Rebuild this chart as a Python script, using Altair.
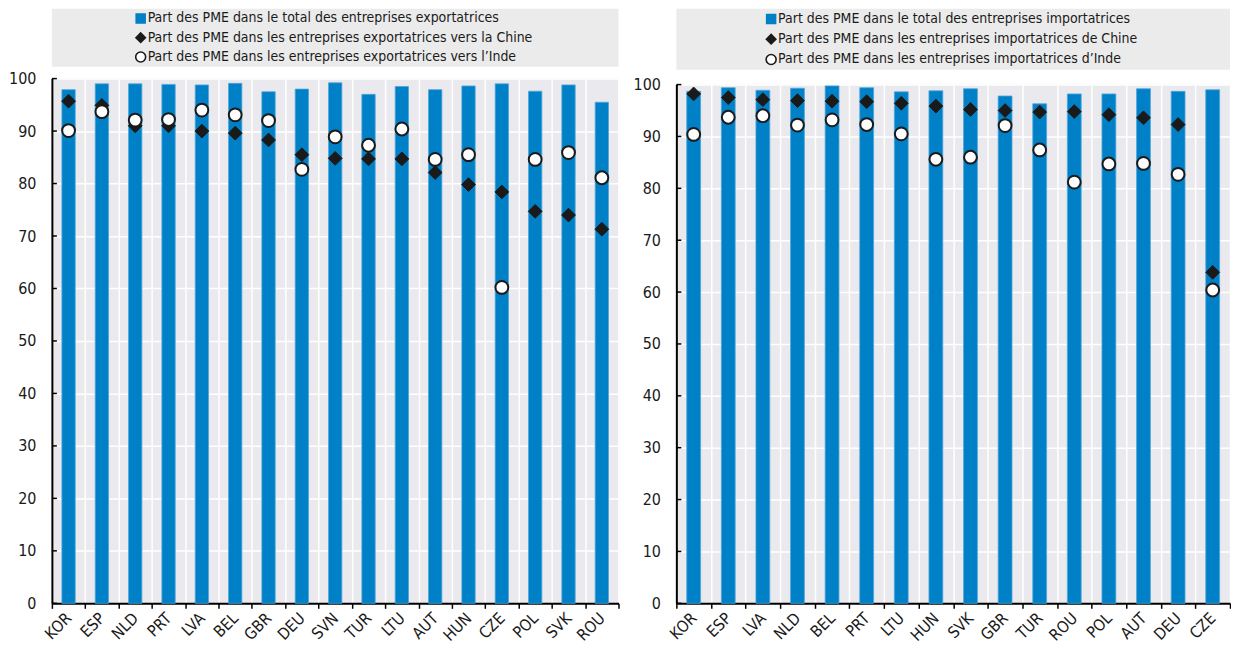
import altair as alt
import pandas as pd

# ---------------- data ----------------
countries_exp = ["KOR", "ESP", "NLD", "PRT", "LVA", "BEL", "GBR", "DEU", "SVN",
                 "TUR", "LTU", "AUT", "HUN", "CZE", "POL", "SVK", "ROU"]
total_exp = [97.9, 99.0, 99.0, 98.9, 98.8, 99.1, 97.5, 98.0, 99.2,
             97.0, 98.5, 97.9, 98.6, 99.0, 97.6, 98.8, 95.5]
china_exp = [95.7, 94.9, 91.0, 91.0, 90.0, 89.6, 88.3, 85.5, 84.8,
             84.7, 84.7, 82.1, 79.8, 78.4, 74.7, 74.0, 71.3]
india_exp = [90.1, 93.7, 92.1, 92.2, 94.0, 93.1, 92.0, 82.7, 88.9,
             87.3, 90.4, 84.6, 85.5, 60.2, 84.6, 85.9, 81.1]
labels_exp = ["Part des PME dans le total des entreprises exportatrices",
              "Part des PME dans les entreprises exportatrices vers la Chine",
              "Part des PME dans les entreprises exportatrices vers l’Inde"]

countries_imp = ["KOR", "ESP", "LVA", "NLD", "BEL", "PRT", "LTU", "HUN", "SVK",
                 "GBR", "TUR", "ROU", "POL", "AUT", "DEU", "CZE"]
total_imp = [98.7, 99.4, 98.9, 99.3, 99.75, 99.4, 98.6, 98.8, 99.2,
             97.8, 96.3, 98.2, 98.2, 99.2, 98.7, 99.0]
china_imp = [98.2, 97.5, 97.1, 96.9, 96.8, 96.7, 96.4, 95.85, 95.2,
             95.0, 94.7, 94.8, 94.2, 93.6, 92.3, 63.8]
india_imp = [90.4, 93.7, 94.0, 92.2, 93.2, 92.3, 90.5, 85.6, 86.0,
             92.1, 87.4, 81.2, 84.7, 84.8, 82.7, 60.4]
labels_imp = ["Part des PME dans le total des entreprises importatrices",
              "Part des PME dans les entreprises importatrices de Chine",
              "Part des PME dans les entreprises importatrices d’Inde"]

y_ticks = list(range(0, 101, 10))

# ---------------- style ----------------
FONT = "DejaVu Sans Condensed, Liberation Sans Narrow, Arial Narrow, sans-serif"
BLUE = "#0080C6"
BG = "#EAEAEE"
LEG_BG = "#EBEBEB"
INK = "#1a1a1a"


def panel(countries, total, china, india, labels, width, height,
          leg_height, leg_spacing, sym_x, txt_x):
    df_bar = pd.DataFrame({"pays": countries, "valeur": total})
    df_chn = pd.DataFrame({"pays": countries, "valeur": china})
    df_ind = pd.DataFrame({"pays": countries, "valeur": india})
    df_ticks = pd.DataFrame({"valeur": y_ticks})

    x = alt.X("pays:N", sort=countries,
              scale=alt.Scale(paddingInner=0, paddingOuter=0),
              axis=alt.Axis(title=None, labelAngle=-45, labelAlign="right",
                            labelBaseline="middle", labelFontSize=16,
                            labelPadding=7, tickBand="extent", tickSize=5,
                            tickWidth=1.5, domainWidth=2, grid=True,
                            gridColor="white", gridWidth=1.5))
    y = alt.Y("valeur:Q", scale=alt.Scale(domain=[0, 100], nice=False),
              axis=alt.Axis(title=None, values=y_ticks, labelFontSize=16,
                            ticks=False, labelPadding=16, domainWidth=2,
                            grid=True, gridColor="white", gridWidth=1.5))

    bars = alt.Chart(df_bar).mark_bar(
        width=alt.RelativeBandSize(0.4), color=BLUE, stroke="#4FA6DC",
        strokeWidth=0.8).encode(x=x, y=y)

    chn = alt.Chart(df_chn).mark_point(
        shape="diamond", filled=True, opacity=1, fill=INK, stroke=INK,
        strokeWidth=1, size=190).encode(x=x, y=y)
    ind = alt.Chart(df_ind).mark_point(
        shape="circle", filled=True, opacity=1, fill="white", stroke=INK,
        strokeWidth=2, size=165).encode(x=x, y=y)

    ticks = alt.Chart(df_ticks).mark_rule(color="black", strokeWidth=1.5).encode(
        y=y, x=alt.value(0), x2=alt.value(5))

    main = alt.layer(bars, chn, ind, ticks).properties(
        width=width, height=height,
        view=alt.ViewBackground(fill=BG, stroke=None))

    keys = ["total", "chine", "inde"]
    df_leg = pd.DataFrame({"label": labels, "cle": keys})
    ly = alt.Y("cle:N", sort=keys,
               scale=alt.Scale(type="point", padding=0.5), axis=None)
    sym = alt.Chart(df_leg).mark_point(filled=True, opacity=1, strokeWidth=1.6).encode(
        y=ly, x=alt.value(sym_x),
        shape=alt.Shape("cle:N", scale=alt.Scale(domain=keys,
                        range=["square", "diamond", "circle"]), legend=None),
        fill=alt.Fill("cle:N", scale=alt.Scale(domain=keys,
                      range=[BLUE, INK, "white"]), legend=None),
        stroke=alt.Stroke("cle:N", scale=alt.Scale(domain=keys,
                          range=[BLUE, INK, INK]), legend=None),
        size=alt.Size("cle:N", scale=alt.Scale(domain=keys,
                      range=[80, 100, 60]), legend=None),
    )
    txt = alt.Chart(df_leg).mark_text(
        align="left", baseline="middle", font=FONT, fontSize=14,
        color=INK).encode(y=ly, x=alt.value(txt_x), text="label:N")
    leg = alt.layer(sym, txt).properties(
        width=width, height=leg_height,
        view=alt.ViewBackground(fill=LEG_BG, stroke=None))

    return alt.vconcat(leg, main, spacing=leg_spacing, bounds="flush")


left = panel(countries_exp, total_exp, china_exp, india_exp, labels_exp,
             width=568, height=526, leg_height=58, leg_spacing=12,
             sym_x=89, txt_x=96)
right = panel(countries_imp, total_imp, china_imp, india_imp, labels_imp,
              width=555, height=520, leg_height=61, leg_spacing=15,
              sym_x=95, txt_x=102)

chart = alt.hconcat(left, right, spacing=13).properties(
    padding=0
).configure_axis(
    labelFont=FONT, labelColor=INK, domainColor="black",
    tickColor="black"
).configure_view(stroke=None)

chart.save("out.html", embed_options={"renderer": "svg", "actions": False})
